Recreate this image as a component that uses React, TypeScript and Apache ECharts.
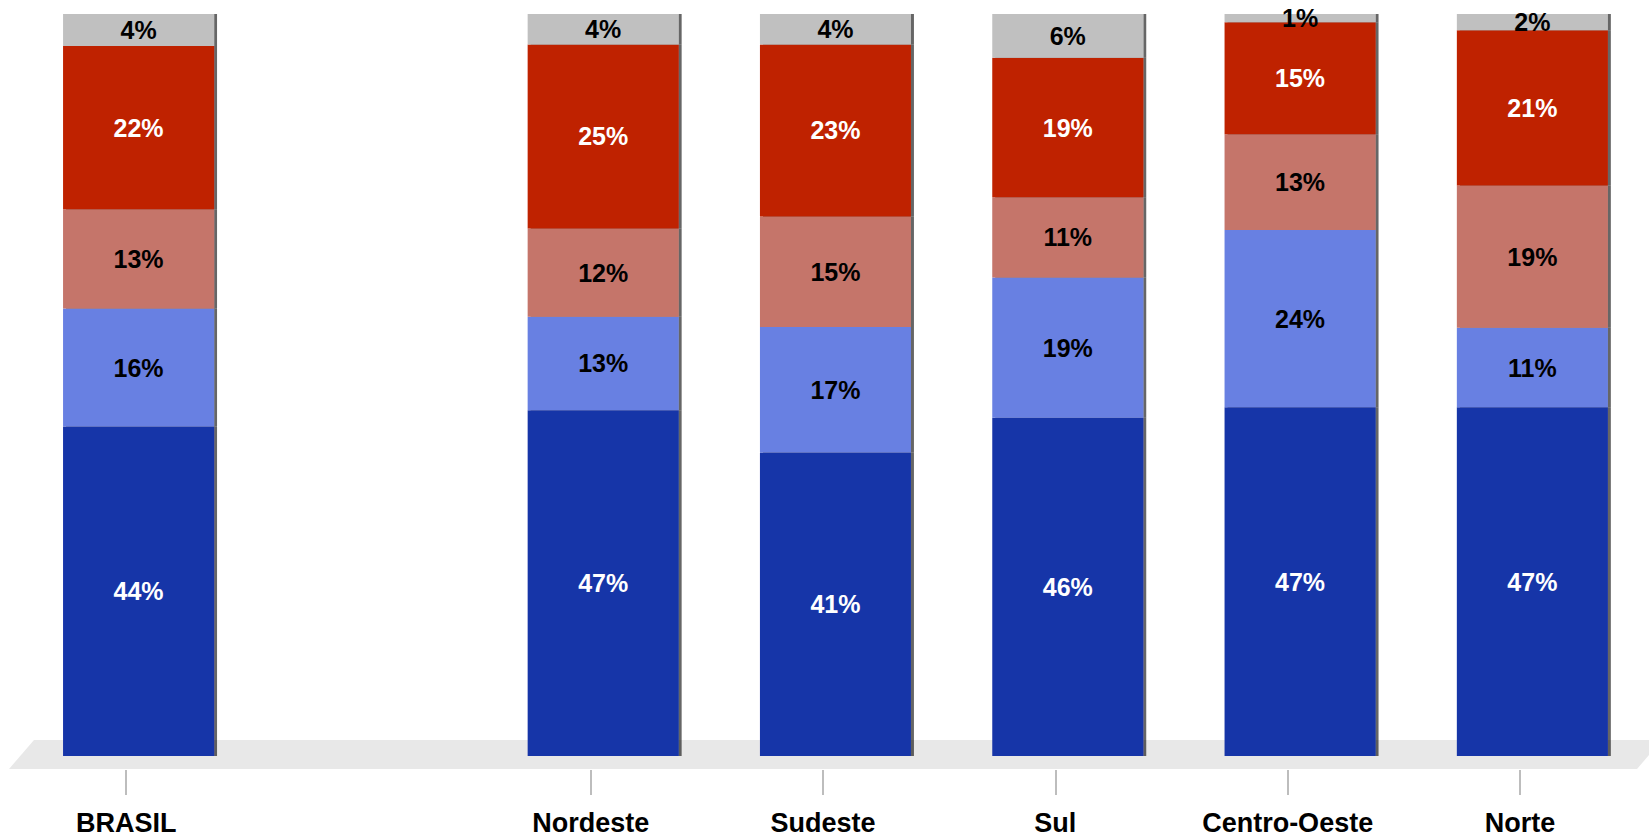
import React, { useEffect, useRef } from 'react';
import * as echarts from 'echarts';

const categories = ['BRASIL', '', 'Nordeste', 'Sudeste', 'Sul', 'Centro-Oeste', 'Norte'];
const seriesNames = ['Faixa 1', 'Faixa 2', 'Faixa 3', 'Faixa 4', 'Faixa 5'];
const blueValues: (number | string)[] = [44.4, '-', 46.6, 40.9, 45.6, 47.0, 47.0];
const lightBlueValues: (number | string)[] = [15.9, '-', 12.6, 16.9, 18.9, 23.9, 10.7];
const salmonValues: (number | string)[] = [13.4, '-', 11.9, 14.9, 10.8, 12.9, 19.2];
const redValues: (number | string)[] = [22.0, '-', 24.8, 23.2, 18.8, 15.1, 20.9];
const grayValues: (number | string)[] = [4.3, '-', 4.1, 4.1, 5.9, 1.1, 2.2];

const seriesData = [blueValues, lightBlueValues, salmonValues, redValues, grayValues];
const seriesColors = ['#1835A8', '#6880E2', '#C5756A', '#BF2100', '#C0C0C0'];
const labelColors = ['#FFFFFF', '#000000', '#000000', '#FFFFFF', '#000000'];

const FONT = '"Liberation Sans", Arial, sans-serif';

export default function App() {
  const ref = useRef<HTMLDivElement>(null);
  useEffect(() => {
    if (!ref.current) return;
    const chart = echarts.init(ref.current, undefined, { renderer: 'svg' });
    const bandW = 232.3;
    const gridW = bandW * categories.length;
    chart.setOption({
      animation: false,
      backgroundColor: '#FFFFFF',
      graphic: [
        {
          type: 'polygon',
          z: 0,
          silent: true,
          shape: { points: [[9, 769], [34, 740], [1662, 740], [1637, 769]] },
          style: { fill: '#E8E8E8' },
        },
      ],
      grid: [
        { left: 22.4, top: 14, width: gridW, bottom: 80 },
        { left: 10, top: 14, width: gridW, bottom: 65 },
      ],
      xAxis: [
        {
          type: 'category',
          gridIndex: 0,
          data: categories,
          axisLine: { show: false },
          axisTick: { show: false },
          axisLabel: { show: false },
        },
        {
          type: 'category',
          gridIndex: 1,
          data: categories,
          axisLine: { show: false },
          axisTick: {
            show: true,
            alignWithLabel: true,
            length: 25,
            interval: (idx: number) => idx !== 1,
            lineStyle: { color: '#BDBDBD', width: 2 },
          },
          axisLabel: {
            show: true,
            margin: 39,
            interval: 0,
            color: '#000000',
            fontFamily: FONT,
            fontWeight: 'bold',
            fontSize: 27,
          },
        },
      ],
      yAxis: [
        { type: 'value', gridIndex: 0, min: 0, max: 100, show: false },
        { type: 'value', gridIndex: 1, min: 0, max: 100, show: false },
      ],
      series: seriesData.map((vals, i) => ({
        name: seriesNames[i],
        type: 'bar',
        stack: 'total',
        xAxisIndex: 0,
        yAxisIndex: 0,
        barWidth: 151,
        data: vals,
        z: 3,
        itemStyle: {
          color: seriesColors[i],
          shadowColor: 'rgba(0,0,0,0.6)',
          shadowOffsetX: 3,
          shadowOffsetY: 0,
          shadowBlur: 1,
        },
        label: {
          show: true,
          position: 'inside',
          color: labelColors[i],
          fontFamily: FONT,
          fontWeight: 'bold',
          fontSize: 25,
          formatter: (p: any) => Math.round(p.value) + '%',
        },
      })),
    });
    return () => chart.dispose();
  }, []);
  return (
    <div
      ref={ref}
      style={{ position: 'absolute', left: 0, top: 0, width: 1649, height: 836 }}
    />
  );
}
